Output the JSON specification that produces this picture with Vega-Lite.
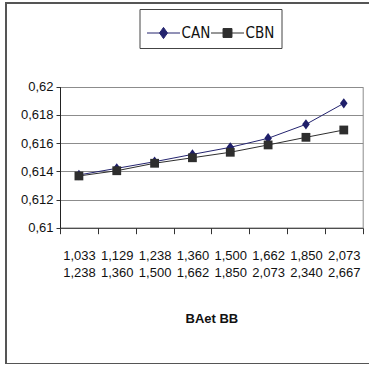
{
  "$schema": "https://vega.github.io/schema/vega-lite/v6.json",
  "width": 366,
  "height": 361,
  "autosize": {"type": "none"},
  "padding": {"left": 6, "top": 3, "right": 0, "bottom": 0},
  "background": "white",
  "config": {
    "font": "Liberation Sans",
    "view": {"stroke": "#555555", "strokeWidth": 2}
  },
  "data": {
    "values": [
      {"range": "1,033|1,238", "series": "CAN", "value": 0.61374},
      {"range": "1,129|1,360", "series": "CAN", "value": 0.61421},
      {"range": "1,238|1,500", "series": "CAN", "value": 0.61468},
      {"range": "1,360|1,662", "series": "CAN", "value": 0.61520},
      {"range": "1,500|1,850", "series": "CAN", "value": 0.61570},
      {"range": "1,662|2,073", "series": "CAN", "value": 0.61634},
      {"range": "1,850|2,340", "series": "CAN", "value": 0.61733},
      {"range": "2,073|2,667", "series": "CAN", "value": 0.61882},
      {"range": "1,033|1,238", "series": "CBN", "value": 0.61367},
      {"range": "1,129|1,360", "series": "CBN", "value": 0.61404},
      {"range": "1,238|1,500", "series": "CBN", "value": 0.61457},
      {"range": "1,360|1,662", "series": "CBN", "value": 0.61496},
      {"range": "1,500|1,850", "series": "CBN", "value": 0.61535},
      {"range": "1,662|2,073", "series": "CBN", "value": 0.61587},
      {"range": "1,850|2,340", "series": "CBN", "value": 0.61641},
      {"range": "2,073|2,667", "series": "CBN", "value": 0.61693}
    ]
  },
  "resolve": {"axis": {"y": "independent"}},
  "layer": [
    {
      "mark": {"type": "line", "strokeWidth": 1},
      "encoding": {
        "x": {
          "field": "range",
          "type": "nominal",
          "sort": null,
          "bandPosition": 0.5,
          "scale": {"type": "band", "range": [54, 356.7], "paddingInner": 0, "paddingOuter": 0},
          "axis": {
            "offset": -136.3,
            "tickBand": "extent",
            "tickSize": 6,
            "tickColor": "#333333",
            "domainColor": "#333333",
            "labelAngle": 0,
            "labelExpr": "datum.value ? split(datum.value, '|') : ''",
            "labelFontSize": 13,
            "labelColor": "#111111",
            "labelLineHeight": 16.6,
            "labelPadding": 16,
            "title": "BAet BB",
            "titleFontSize": 13,
            "titleFontWeight": "bold",
            "titleColor": "#111111",
            "titlePadding": 33,
            "grid": false
          }
        },
        "y": {
          "field": "value",
          "type": "quantitative",
          "scale": {"domain": [0.61, 0.62], "nice": false, "zero": false, "range": [224.7, 83.7]},
          "axis": {
            "offset": -54,
            "values": [0.61, 0.612, 0.614, 0.616, 0.618, 0.62],
            "labelExpr": "replace(format(datum.value, '~g'), '.', ',')",
            "labelFontSize": 13,
            "labelColor": "#111111",
            "labelPadding": 3,
            "tickSize": 4,
            "tickColor": "#333333",
            "domainColor": "#222222",
            "gridColor": "#8c8c8c",
            "title": null
          }
        },
        "color": {
          "field": "series",
          "type": "nominal",
          "scale": {"domain": ["CAN", "CBN"], "range": ["#24246f", "#2e2e2e"]},
          "legend": {
            "title": null,
            "orient": "none",
            "legendX": 133.5,
            "legendY": 6,
            "direction": "horizontal",
            "symbolSize": 1089,
            "symbolStrokeWidth": 1,
            "labelFont": "DejaVu Sans Condensed",
            "labelFontSize": 15,
            "labelColor": "#111111",
            "labelOffset": 1,
            "columnPadding": -9,
            "padding": 7,
            "strokeColor": "#444444",
            "encode": {
              "symbols": {
                "update": {
                  "shape": {"signal": "datum.value === 'CAN' ? 'M-1,0H1M0,-0.34L0.24,0L0,0.34L-0.24,0Z' : 'M-1,0H1M-0.27,-0.27H0.27V0.27H-0.27Z'"},
                  "fill": {"scale": "color", "field": "value"},
                  "stroke": {"scale": "color", "field": "value"},
                  "strokeWidth": {"value": 1}
                }
              }
            }
          }
        }
      }
    },
    {
      "transform": [{"filter": "datum.series === 'CAN'"}],
      "mark": {"type": "point", "filled": true, "opacity": 1, "size": 64, "color": "#1f1f6a", "shape": "M0,-1.3L0.95,0L0,1.3L-0.95,0Z"},
      "encoding": {
        "x": {"field": "range", "type": "nominal", "sort": null, "bandPosition": 0.5},
        "y": {
          "field": "value",
          "type": "quantitative",
          "axis": {
            "orient": "right",
            "offset": -9.3,
            "values": [],
            "labels": false,
            "ticks": false,
            "grid": false,
            "domainColor": "#8c8c8c",
            "title": null
          }
        }
      }
    },
    {
      "transform": [{"filter": "datum.series === 'CBN'"}],
      "mark": {"type": "point", "filled": true, "opacity": 1, "size": 64, "color": "#2e2e2e", "shape": "M-1.1,-1.1H1.1V1.1H-1.1Z"},
      "encoding": {
        "x": {"field": "range", "type": "nominal", "sort": null, "bandPosition": 0.5},
        "y": {"field": "value", "type": "quantitative", "axis": null}
      }
    }
  ]
}
